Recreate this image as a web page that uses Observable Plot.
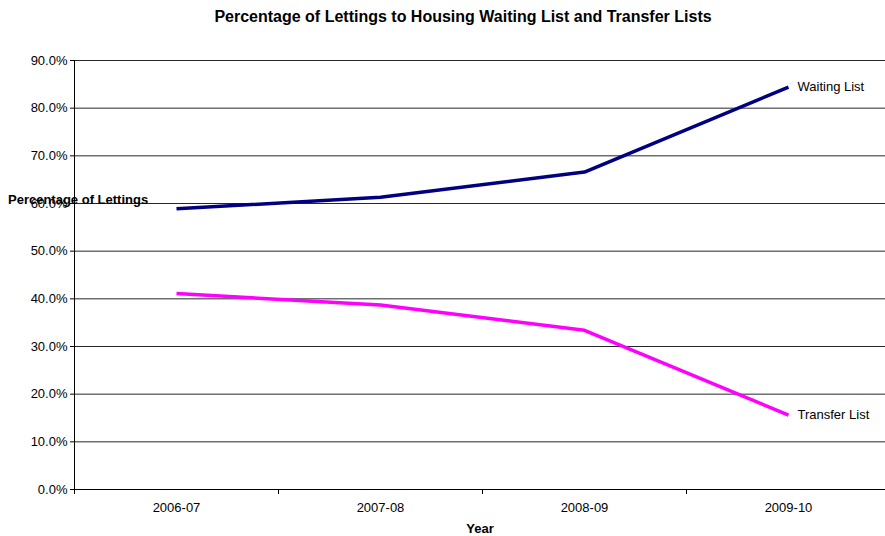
<!DOCTYPE html>
<html>
<head>
<meta charset="utf-8">
<script src="https://cdn.jsdelivr.net/npm/d3@7"></script>
<script src="https://cdn.jsdelivr.net/npm/@observablehq/plot@0.6"></script>
<style>
  html, body { margin: 0; padding: 0; background: #fff; }
  #wrap { position: relative; width: 885px; height: 536px; font-family: "Liberation Sans", Arial, sans-serif; }
  #title { position: absolute; left: 0; width: 926px; top: 8px; text-align: center; font-weight: bold; font-size: 16px; color: #000; }
  #ylab { position: absolute; left: 8px; top: 192px; font-weight: bold; font-size: 13px; color: #000; white-space: nowrap; }
  g[aria-label="x-axis label"] text { font-weight: bold; }
</style>
</head>
<body>
<div id="wrap">
  <div id="chart"></div>
  <div id="title">Percentage of Lettings to Housing Waiting List and Transfer Lists</div>
  <div id="ylab">Percentage of Lettings</div>
</div>
<script>
const years = ["2006-07", "2007-08", "2008-09", "2009-10"];
const waitingList = [0.589, 0.613, 0.666, 0.844];
const transferList = [0.411, 0.387, 0.334, 0.156];
const seriesNames = ["Waiting List", "Transfer List"];
const seriesColors = ["#000080", "#FF00FF"];
const yTicks = [0, 0.1, 0.2, 0.3, 0.4, 0.5, 0.6, 0.7, 0.8, 0.9];

const rows = [];
[waitingList, transferList].forEach((vals, si) => {
  vals.forEach((v, i) => rows.push({series: seriesNames[si], year: years[i], value: v}));
});
const last = rows.filter(d => d.year === years[years.length - 1]);

const chart = Plot.plot({
  width: 885,
  height: 536,
  marginTop: 60,
  marginBottom: 47,
  marginLeft: 74,
  marginRight: 0,
  style: {fontFamily: "'Liberation Sans', Arial, sans-serif", fontSize: "13px", color: "#000", background: "#fff"},
  x: {type: "band", domain: years, range: [74, 890], padding: 0},
  y: {domain: [0, 0.9]},
  color: {domain: seriesNames, range: seriesColors},
  marks: [
    Plot.ruleY(yTicks, {stroke: "#000", strokeWidth: 1, strokeOpacity: 0.85}),
    Plot.axisY({ticks: yTicks, tickFormat: d => (d * 100).toFixed(1) + "%", tickSize: 4, tickPadding: 3, label: null, stroke: "#000", fontSize: 13}),
    Plot.axisX({tickSize: 0, tickPadding: 13, label: "Year", labelArrow: "none", labelAnchor: "center", labelOffset: 43, fontSize: 13, dx: 0}),
    Plot.axisX({tickSize: 5, text: null, label: null, dx: -102, stroke: "#000"}),
    Plot.ruleX([0], {x: () => years[0], dx: -102, y1: 0, y2: 0.9, stroke: "#000"}),
    Plot.ruleY([0], {stroke: "#000", strokeWidth: 1.2}),
    Plot.line(rows, {x: "year", y: "value", z: "series", stroke: "series", strokeWidth: 3.5, strokeLinejoin: "miter", strokeLinecap: "butt"}),
    Plot.text(last, {x: "year", y: "value", text: "series", textAnchor: "start", dx: 9, fontSize: 13, fill: "#000"})
  ]
});
document.getElementById("chart").appendChild(chart);
</script>
</body>
</html>
